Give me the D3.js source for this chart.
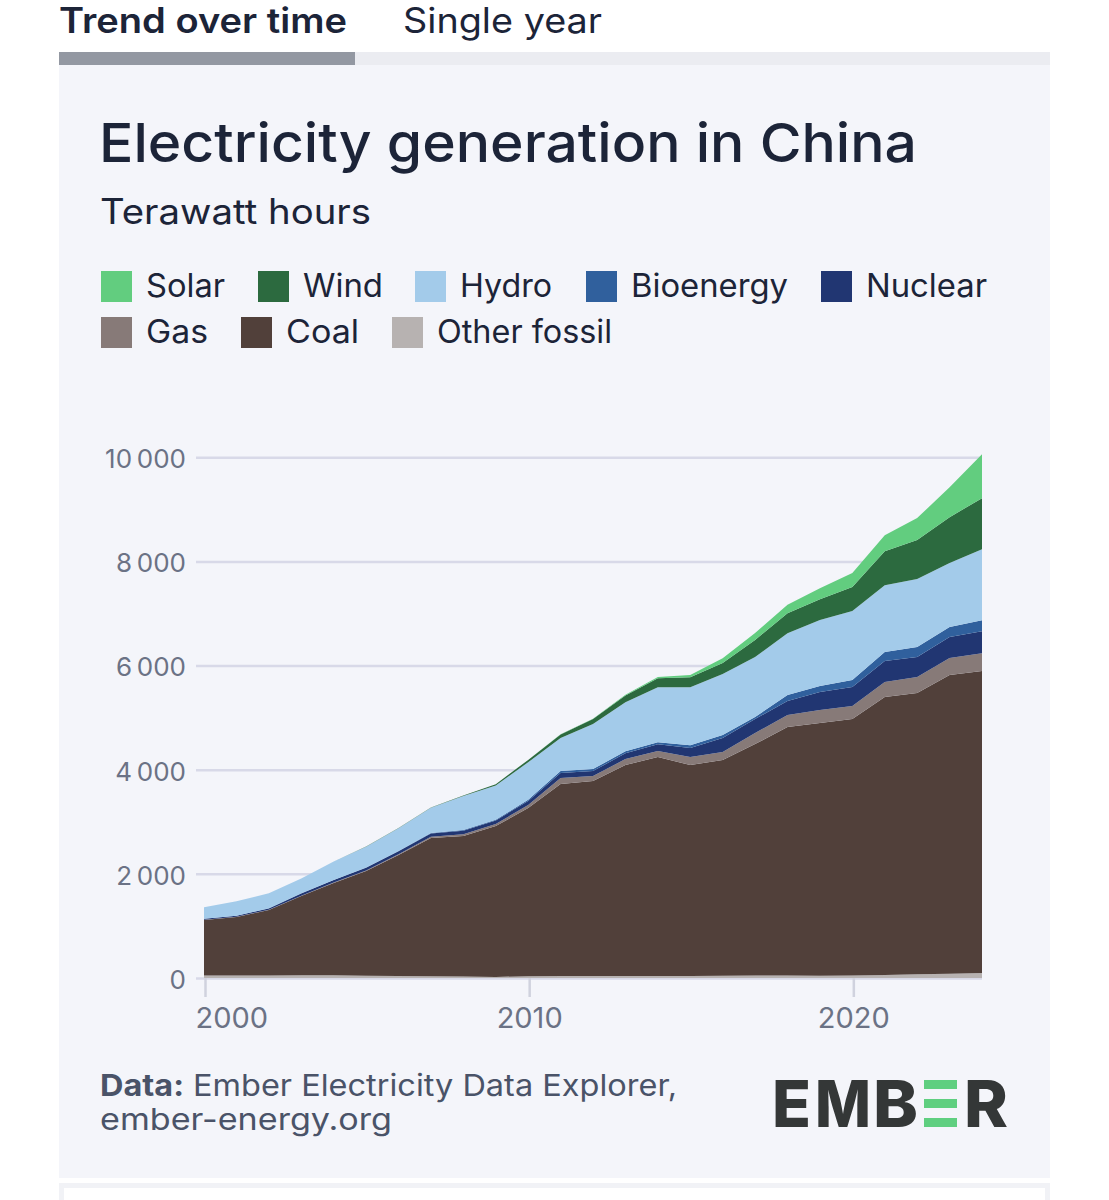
<!DOCTYPE html>
<html lang="en">
<head>
    <meta charset="UTF-8">
    <title>Electricity generation in China</title>
    <script src="https://d3js.org/d3.v7.min.js"></script>
    <style>
        html, body { margin: 0; padding: 0; background: #fff; overflow: hidden; }
        svg { display: block; }
        text { font-family: Inter, "Noto Sans", sans-serif; }
    </style>
</head>
<body>
    <div id="chart"></div>

    <script>
        // Values, TWh
        const years = d3.range(2000, 2025);
        const otherFossil = [50, 50, 50, 52, 52, 45, 40, 35, 30, 20, 35, 40, 40, 40, 40, 40, 45, 50, 50, 45, 50, 60, 70, 80, 95];
        const coal = [1064, 1121, 1256, 1522, 1772, 2009, 2322, 2653, 2696, 2898, 3229, 3685, 3742, 4050, 4203, 4050, 4141, 4443, 4769, 4851, 4923, 5335, 5402, 5738, 5799];
        const gas = [5, 6, 6, 7, 8, 12, 15, 25, 35, 38, 60, 115, 96, 115, 115, 154, 154, 211, 230, 250, 250, 288, 307, 326, 345];
        const nuclear = [17, 17, 25, 43, 50, 53, 55, 62, 68, 70, 74, 96, 97, 110, 130, 171, 269, 269, 269, 345, 365, 403, 384, 403, 422];
        const bioenergy = [2, 2, 2, 2, 2, 5, 8, 10, 15, 15, 25, 38, 38, 38, 38, 57, 60, 40, 115, 115, 134, 173, 192, 192, 211];
        const hydro = [222, 277, 288, 283, 354, 398, 436, 485, 650, 655, 720, 634, 864, 941, 1056, 1114, 1171, 1152, 1190, 1267, 1325, 1286, 1306, 1229, 1363];
        const wind = [0, 0, 0, 0, 0, 2, 4, 6, 13, 26, 45, 70, 96, 130, 173, 192, 211, 326, 384, 403, 461, 653, 749, 883, 979];
        const solar = [0, 0, 0, 0, 0, 0, 0, 0, 0, 0, 1, 3, 5, 15, 25, 39, 91, 134, 160, 211, 269, 307, 422, 576, 845];

        const yTicks = [0, 2000, 4000, 6000, 8000, 10000];
        const xTicks = [2000, 2010, 2020];

        const seriesNames = ["Other fossil", "Coal", "Gas", "Nuclear", "Bioenergy", "Hydro", "Wind", "Solar"];
        const seriesValues = [otherFossil, coal, gas, nuclear, bioenergy, hydro, wind, solar];
        const seriesColors = ["#b7b2b1", "#51403a", "#877a78", "#213672", "#30609d", "#a3cbea", "#2c6a3f", "#62cd7f"];

        const width = 1109, height = 1200;
        const svg = d3.select("#chart").append("svg")
            .attr("width", width)
            .attr("height", height);

        // fit text to the measured width
        function label(x, y, str, size, weight, fill, len, anchor) {
            const t = svg.append("text")
                .attr("x", x).attr("y", y)
                .attr("font-size", size)
                .attr("font-weight", weight)
                .attr("fill", fill)
                .attr("text-anchor", anchor || "start")
                .text(str);
            if (len) t.attr("textLength", len).attr("lengthAdjust", "spacingAndGlyphs");
            return t;
        }

        // Tabs and panels
        svg.append("rect").attr("x", 59).attr("y", 52).attr("width", 991).attr("height", 1126).attr("fill", "#f4f5fa");
        svg.append("rect").attr("x", 59).attr("y", 52).attr("width", 991).attr("height", 13).attr("fill", "#ebecf1");
        svg.append("rect").attr("x", 59).attr("y", 52).attr("width", 296).attr("height", 13).attr("fill", "#9398a2");
        svg.append("rect").attr("x", 59).attr("y", 1183).attr("width", 991).attr("height", 17).attr("fill", "#f1f2f6");
        svg.append("rect").attr("x", 64).attr("y", 1188).attr("width", 981).attr("height", 12).attr("fill", "#fff");

        label(59, 33, "Trend over time", 35, 600, "#1c2438", 288);
        label(403, 33, "Single year", 35, 400, "#1c2438", 199);

        // Title
        label(99, 162, "Electricity generation in China", 54, 500, "#1c2438", 818);
        label(100, 224, "Terawatt hours", 35, 400, "#1c2438", 271);

        // Legend
        const legendRows = [
            { y: 271, items: [["Solar", 101, 79], ["Wind", 258, 80], ["Hydro", 415, 92], ["Bioenergy", 586, 157], ["Nuclear", 821, 121]] },
            { y: 317, items: [["Gas", 101, 62], ["Coal", 241, 73], ["Other fossil", 392, 175]] }
        ];
        legendRows.forEach(row => {
            row.items.forEach(([name, x, len]) => {
                svg.append("rect")
                    .attr("x", x).attr("y", row.y)
                    .attr("width", 31).attr("height", 31)
                    .attr("fill", seriesColors[seriesNames.indexOf(name)]);
                label(x + 45, row.y + 26, name, 32, 400, "#1c2438", len);
            });
        });

        // Scales
        const x = d3.scaleLinear().domain([2000, 2024]).range([204, 982]);
        const y = d3.scaleLinear().domain([0, 10000]).range([978, 457.3]);

        // Grid + y axis
        const spaced = d3.format(",");
        const yAxis = d3.axisLeft(y)
            .tickValues(yTicks)
            .tickSize(786)
            .tickPadding(10)
            .tickFormat(d => spaced(d).replace(",", "\u2009"));
        const yG = svg.append("g")
            .attr("transform", "translate(982,0)")
            .call(yAxis);
        yG.select(".domain").remove();
        yG.selectAll("line").attr("stroke", "#d8d9e8").attr("stroke-width", 2.5);
        yG.selectAll("text")
            .attr("font-size", 26)
            .attr("fill", "#6b7285")
            .attr("dy", "0.4em")
            .style("font-family", "Inter, sans-serif");

        // Stacked areas
        const rows = years.map((year, i) => {
            const row = { year };
            seriesNames.forEach((name, s) => { row[name] = seriesValues[s][i]; });
            return row;
        });
        const stack = d3.stack().keys(seriesNames);
        const area = d3.area()
            .x(d => x(d.data.year))
            .y0(d => y(d[0]))
            .y1(d => y(d[1]));

        svg.append("g").selectAll("path")
            .data(stack(rows))
            .enter()
            .append("path")
            .attr("d", area)
            .attr("fill", (d, i) => seriesColors[i]);

        // X axis
        const xAxis = d3.axisBottom(x)
            .tickValues(xTicks)
            .tickSize(19)
            .tickPadding(10)
            .tickFormat(d3.format("d"));
        const xG = svg.append("g")
            .attr("transform", "translate(1,978)")
            .call(xAxis);
        xG.select(".domain").remove();
        xG.selectAll("line").attr("stroke", "#d0d2de").attr("stroke-width", 2.5);
        xG.selectAll("text")
            .attr("font-size", 29)
            .attr("fill", "#6b7285")
            .style("font-family", "Inter, sans-serif");
        // first label is pushed in so it stays over the axis start
        xG.selectAll("text").filter(d => d === 2000)
            .attr("text-anchor", "start")
            .attr("x", -10);

        // Footer
        label(100, 1096, "Data:", 30, 700, "#4a5368", 84);
        label(193, 1096, "Ember Electricity Data Explorer,", 30, 400, "#4a5368", 484);
        label(100, 1130, "ember-energy.org", 30, 400, "#4a5368", 292);

        // Logo, the middle E is three green bars
        const logoLetters = [["E", 772, 39], ["M", 815, 56], ["B", 873, 45], ["R", 964, 44]];
        logoLetters.forEach(([ch, lx, len]) => {
            label(lx, 1127, ch, 65, 800, "#343737", len);
        });
        const logoBars = [1080, 1099, 1118];
        svg.append("g").selectAll("rect")
            .data(logoBars)
            .enter()
            .append("rect")
            .attr("x", 924).attr("y", d => d)
            .attr("width", 33).attr("height", 9)
            .attr("fill", "#5fcf80");
    </script>
</body>
</html>
